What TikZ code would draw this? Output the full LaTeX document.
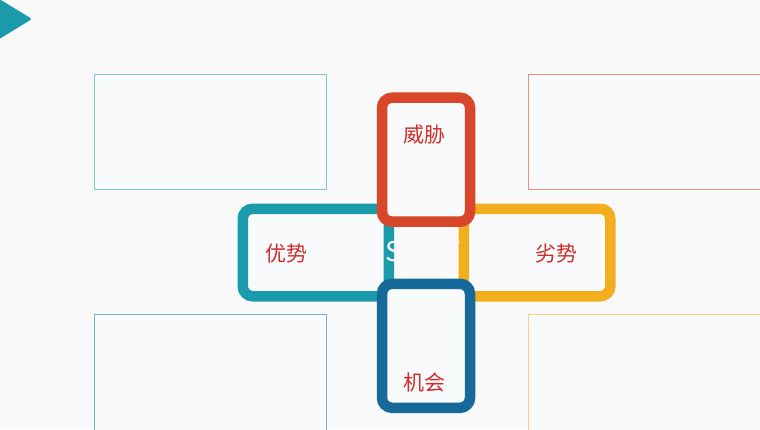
\documentclass[tikz,border=0pt]{standalone}
\usepackage{fontspec}
\setmainfont{Noto Sans CJK SC}
\usepackage{tikz}
\definecolor{swotred}{RGB}{216, 71, 42}
\definecolor{swotteal}{RGB}{26, 155, 171}
\definecolor{swotyellow}{RGB}{242, 174, 28}
\definecolor{swotblue}{RGB}{22, 106, 154}
\definecolor{swottext}{RGB}{208, 44, 40}
\definecolor{pagebg}{RGB}{249, 249, 249}
\definecolor{boxbg}{RGB}{249, 250, 252}
\usetikzlibrary{
  calc,
  positioning,
}
\tikzset{
  frame/.style={draw,rectangle,rounded corners=10pt,line width=10.5pt,fill=boxbg},
  infobox/.style={draw,rectangle,line width=1pt,fill=boxbg,anchor=north west},
  lbl/.style={text=swottext,font=\fontsize{21}{25}\selectfont},
}

\begin{document}
\begin{tikzpicture}[x=1pt,y=-1pt]

        \fill[pagebg] (0,0) rectangle (760,429);
        \useasboundingbox (0,0) rectangle (760,429);

        % corner marker
        \fill[swotteal,rounded corners=2pt] (-4,-3) -- (32,19) -- (-4,41) -- cycle;

        % text boxes
        \node[infobox,draw=swotteal!55,minimum width=232,minimum height=115]    (b00) at (94,74)      {};
        \node[infobox,draw=swotred!60,minimum width=234,minimum height=115]     (b01) at (528,74)     {};
        \node[infobox,draw=swotblue!55,minimum width=232,minimum height=130]    (b10) at (94,314)     {};
        \node[infobox,draw=swotyellow!55,minimum width=234,minimum height=130]  (b11) at (528,314)    {};

        % cross of frames
        \node[frame,draw=swotteal,minimum width=146,minimum height=87.5]     (f1) at (315.75,252.5)   {};
        \node[frame,draw=swotyellow,minimum width=146.5,minimum height=87.5] (f2) at (537,252.5)      {};

        \node[text=pagebg,font=\fontsize{27}{31}\selectfont]    (c0) at (423,252)    {SWOT};

        \node[frame,draw=swotred,minimum width=88,minimum height=124]      (f0) at (426,159.7)      {};
        \node[frame,draw=swotblue,minimum width=88,minimum height=124]     (f3) at (426,345.8)      {};

        \node[lbl]    (t0) at ([xshift=-1.5,yshift=-42]f0.north)    {威胁};
        \node[lbl]    (t1) at ([xshift=49,yshift=-1.5]f1.west)      {优势};
        \node[lbl]    (t2) at ([xshift=-59,yshift=-1.5]f2.east)     {劣势};
        \node[lbl]    (t3) at ([xshift=-1.5,yshift=31]f3.south)     {机会};

    \end{tikzpicture}
\end{document}
